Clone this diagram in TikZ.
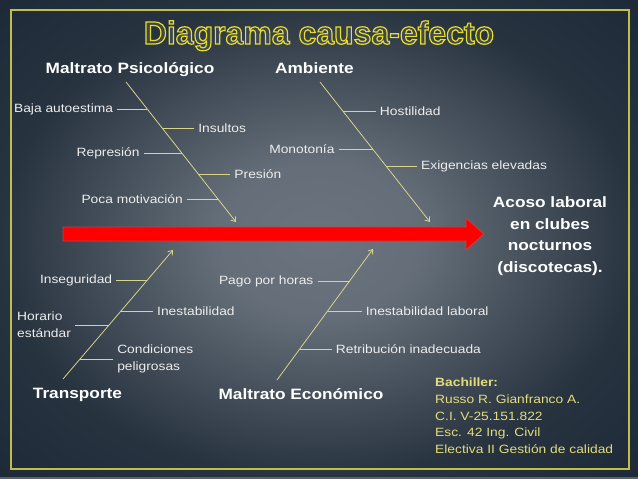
\documentclass[tikz,border=0pt]{standalone}
\usepackage{fontspec}
\setmainfont{Liberation Sans}[FakeStretch=1.15]
\newfontfamily\titlefont{Liberation Sans}
\usetikzlibrary{arrows.meta,calc,positioning}
\definecolor{bgdark}{HTML}{1E2A37}
\definecolor{bglight}{HTML}{6B747E}
\definecolor{frameyel}{HTML}{C2BE4C}
\definecolor{titlefill}{HTML}{3E4855}
\definecolor{boneyel}{HTML}{D8D488}
\definecolor{txtgray}{HTML}{EDEDED}
\definecolor{authyel}{HTML}{E4DC78}
\definecolor{edgegray}{HTML}{5A626B}
\pgfdeclareradialshading{slidebg}{\pgfpoint{0bp}{0bp}}{color(0bp)=(bglight);color(8bp)=(bglight!92!bgdark);color(25bp)=(bgdark!88!bglight);color(35bp)=(bgdark);color(50bp)=(bgdark)}
\newcommand\outlinetext[1]{\special{pdf:code q}\textcolor{titlefill}{\special{pdf:code 2 Tr 1.2 w 0.91 0.87 0.16 RG}#1}\special{pdf:code Q}}

\begin{document}
\begin{tikzpicture}[x=1pt,y=-1pt,>={Straight Barb[length=4pt,width=6pt]},
  lbl/.style={font=\fontsize{12}{17}\selectfont,text=txtgray,inner sep=4pt},
  head/.style={font=\fontsize{15}{18}\selectfont\bfseries,text=white,anchor=base,inner sep=0pt},
  bone/.style={boneyel,line width=.8pt,->},
  twig/.style={boneyel,line width=.9pt}]
 \shade[shading=slidebg] (0,0) rectangle (638,479);
 \useasboundingbox (0,0) rectangle (638,479);
 \fill[edgegray] (0,476.5) rectangle (638,479);
 \draw[frameyel,line width=2pt] (10.5,10) rectangle (629,469);
 \node[font=\titlefont\fontsize{32}{36}\selectfont\bfseries,anchor=base] (title) at (319,44) {\outlinetext{Diagrama causa-efecto}};
 % espina
 \coordinate (s0) at (63,234);
 \coordinate (tip) at (484,234);
 \filldraw[fill=red,draw=red!45!gray,line width=.8pt] ($(s0)+(0,-7)$) -- ($(tip)+(-18,-7)$) -- ($(tip)+(-18,-16)$) -- (tip) -- ($(tip)+(-18,16)$) -- ($(tip)+(-18,7)$) -- ($(s0)+(0,7)$) -- cycle;
 \node[font=\fontsize{15}{21.5}\selectfont\bfseries,text=white,align=center] (efecto) at (550,236) {Acoso laboral\\en clubes\\nocturnos\\(discotecas).};
 % categorias
 \node[head] (psi) at (130,73) {Maltrato Psicológico};
 \node[head] (amb) at (314.5,73) {Ambiente};
 \node[head] (tra) at (77.5,398) {Transporte};
 \node[head] (eco) at (301,399) {Maltrato Económico};
 % maltrato psicologico
 \coordinate (psi0) at (126,82);
 \coordinate (psi1) at (236,222);
 \draw[bone] (psi0) -- (psi1) coordinate[pos=.193] (p1) coordinate[pos=.329] (p2) coordinate[pos=.507] (p3) coordinate[pos=.657] (p4) coordinate[pos=.836] (p5);
 \node[lbl,left=30pt of p1] (baja) {Baja autoestima};
 \node[lbl,right=32pt of p2] (insultos) {Insultos};
 \node[lbl,left=38pt of p3] (represion) {Represión};
 \node[lbl,right=32pt of p4] (presion) {Presión};
 \node[lbl,left=31pt of p5] (poca) {Poca motivación};
 \draw[twig] (baja) -- (p1);
 \draw[twig] (insultos) -- (p2);
 \draw[twig] (represion) -- (p3);
 \draw[twig] (presion) -- (p4);
 \draw[twig] (poca) -- (p5);
 % ambiente
 \coordinate (amb0) at (320,82);
 \coordinate (amb1) at (430,222);
 \draw[bone] (amb0) -- (amb1) coordinate[pos=.207] (a1) coordinate[pos=.479] (a2) coordinate[pos=.6] (a3);
 \node[lbl,right=33pt of a1] (hostilidad) {Hostilidad};
 \node[lbl,left=34pt of a2] (monotonia) {Monotonía};
 \node[lbl,right=31pt of a3] (exigencias) {Exigencias elevadas};
 \draw[twig] (hostilidad) -- (a1);
 \draw[twig] (monotonia) -- (a2);
 \draw[twig] (exigencias) -- (a3);
 % transporte
 \coordinate (tra0) at (63,379);
 \coordinate (tra1) at (173,250);
 \draw[bone] (tra0) -- (tra1) coordinate[pos=.767] (t1) coordinate[pos=.527] (t2) coordinate[pos=.419] (t3) coordinate[pos=.155] (t4);
 \node[lbl,left=31pt of t1] (inseguridad) {Inseguridad};
 \node[lbl,right=32pt of t2] (inestab) {Inestabilidad};
 \node[lbl,left=34pt of t3,align=left] (horario) {Horario\\estándar};
 \node[lbl,right=33pt of t4,align=left] (condiciones) {Condiciones\\peligrosas};
 \draw[twig] (inseguridad) -- (t1);
 \draw[twig] (inestab) -- (t2);
 \draw[twig] (horario) -- (t3);
 \draw[twig] (condiciones) -- (t4);
 % maltrato economico
 \coordinate (eco0) at (277,380);
 \coordinate (eco1) at (373,249);
 \draw[bone] (eco0) -- (eco1) coordinate[pos=.756] (e1) coordinate[pos=.527] (e2) coordinate[pos=.237] (e3);
 \node[lbl,left=32pt of e1] (pago) {Pago por horas};
 \node[lbl,right=34pt of e2] (inestlab) {Inestabilidad laboral};
 \node[lbl,right=32pt of e3] (retribucion) {Retribución inadecuada};
 \draw[twig] (pago) -- (e1);
 \draw[twig] (inestlab) -- (e2);
 \draw[twig] (retribucion) -- (e3);
 % autor
 \node[anchor=north west,align=left,text=authyel,font=\fontsize{12}{16.7}\selectfont,inner sep=0pt] (autor) at (435,378) {\textbf{Bachiller:}\\Russo R. Gianfranco A.\\C.I. V-25.151.822\\Esc. 42 Ing. Civil\\Electiva II Gestión de calidad};
\end{tikzpicture}
\end{document}
